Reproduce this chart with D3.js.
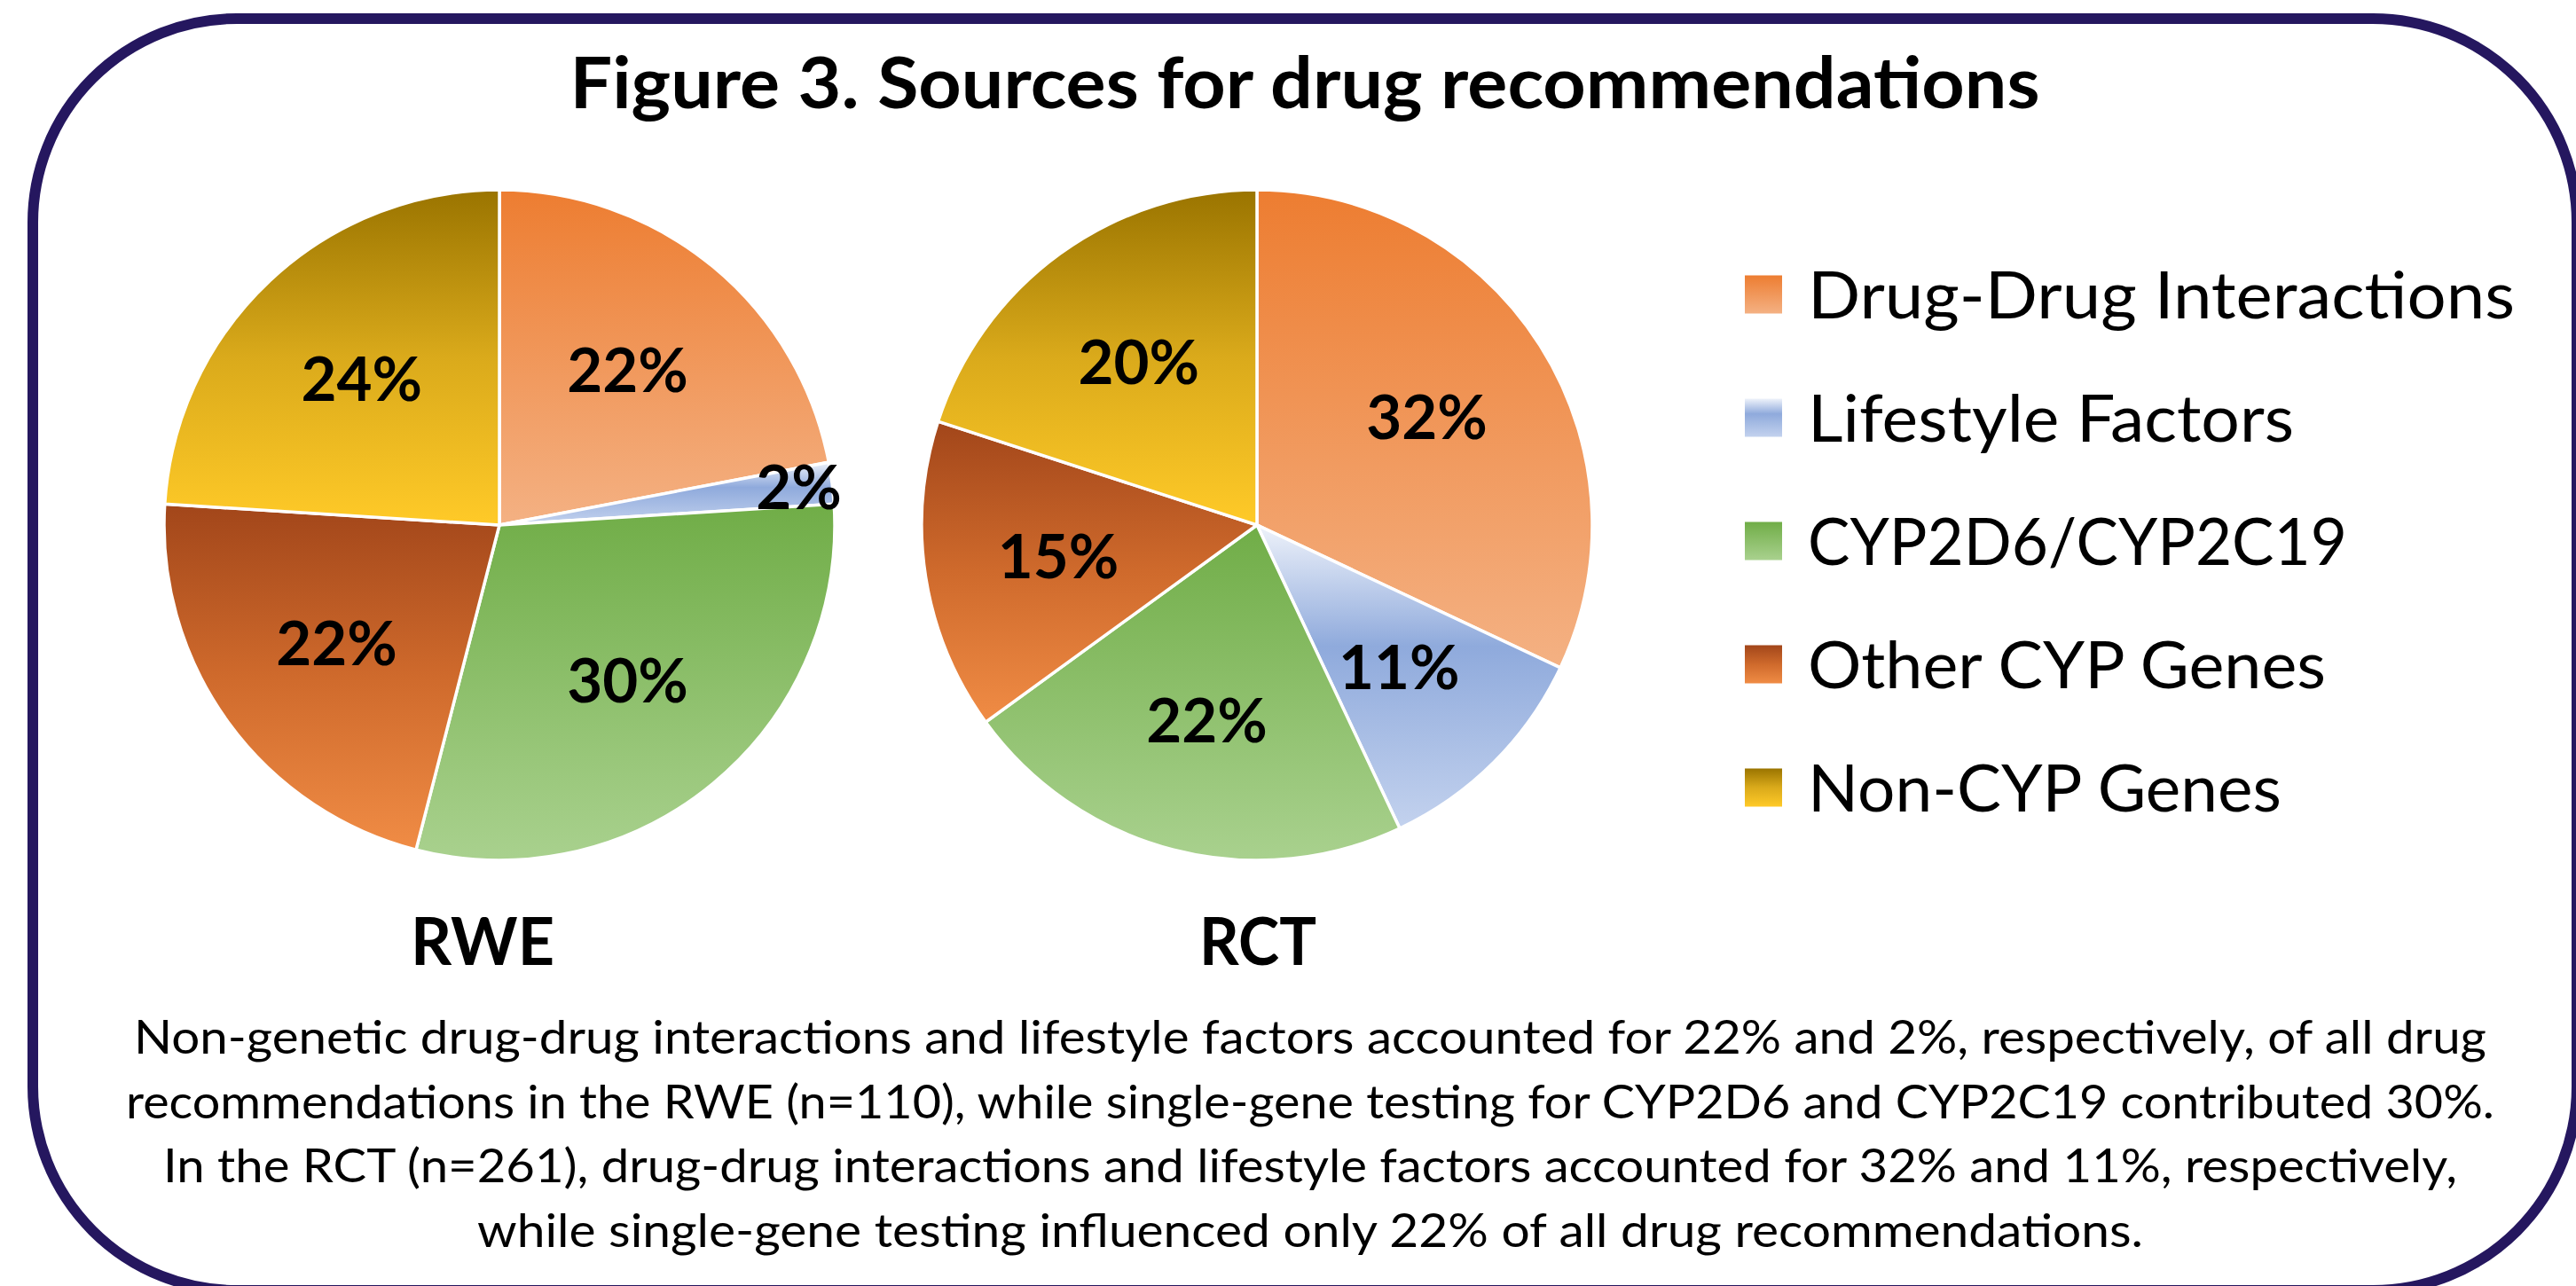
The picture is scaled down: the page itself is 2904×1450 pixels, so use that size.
<!DOCTYPE html>
<html>
<head>
<meta charset="utf-8">
<script src="https://cdn.jsdelivr.net/npm/d3@7"></script>
<style>
  html, body { margin: 0; padding: 0; background: #ffffff; }
  svg { display: block; }
  text { font-family: Lato, "Open Sans", sans-serif; fill: #000000; }
</style>
</head>
<body>
<div id="chart"></div>
<script>
// ---- data ----
var title = "Figure 3. Sources for drug recommendations";
var categories = ["Drug-Drug Interactions", "Lifestyle Factors", "CYP2D6/CYP2C19",
    "Other CYP Genes", "Non-CYP Genes"];
var studies = ["RWE", "RCT"];
var rweValues = [22, 2, 30, 22, 24];
var rctValues = [32, 11, 22, 15, 20];
var noteLines = [
    "Non-genetic drug-drug interactions and lifestyle factors accounted for 22% and 2%, respectively, of all drug",
    "recommendations in the RWE (n=110), while single-gene testing for CYP2D6 and CYP2C19 contributed 30%.",
    "In the RCT (n=261), drug-drug interactions and lifestyle factors accounted for 32% and 11%, respectively,",
    "while single-gene testing influenced only 22% of all drug recommendations."
];

// ---- styles / layout ----
// each slice is filled top -> bottom over its own bounding box
var sliceGradients = [
    [[0, "#ED7D31"], [1, "#F4B183"]],
    [[0, "#EEF2FA"], [0.4, "#8FAADC"], [1, "#C3D2EE"]],
    [[0, "#70AD47"], [1, "#A9D18E"]],
    [[0, "#A2461A"], [0.5, "#CF6A2C"], [1, "#F08C45"]],
    [[0, "#9A7400"], [0.5, "#DAAA1B"], [1, "#FFCA28"]]
];
var legendWidths = [797, 548, 608, 584, 534];
var captionWidths = [162, 132];
var captionX = [544, 1418];
var noteWidths = [2652, 2670, 2586, 1878];

var width = 2904, height = 1450;
var radius = 378;
var pieY = 592;

var svg = d3.select("#chart").append("svg")
    .attr("width", width)
    .attr("height", height);

var defs = svg.append("defs");
sliceGradients.forEach(function(stops, i) {
    var grad = defs.append("linearGradient")
        .attr("id", "grad" + i)
        .attr("x1", 0).attr("y1", 0)
        .attr("x2", 0).attr("y2", 1);
    stops.forEach(function(s) {
        grad.append("stop")
            .attr("offset", s[0])
            .attr("stop-color", s[1]);
    });
});

// rounded frame
svg.append("rect")
    .attr("x", 37)
    .attr("y", 21)
    .attr("width", 2868)
    .attr("height", 1434)
    .attr("rx", 230)
    .attr("ry", 230)
    .attr("fill", "none")
    .attr("stroke", "#25175F")
    .attr("stroke-width", 12);

svg.append("text")
    .attr("x", 1471)
    .attr("y", 122)
    .attr("text-anchor", "middle")
    .attr("font-size", 80)
    .attr("font-weight", "bold")
    .attr("textLength", 1657)
    .attr("lengthAdjust", "spacingAndGlyphs")
    .text(title);

// ---- pies ----
var pieX = d3.scalePoint().domain(studies).range([563, 1417]);
var pie = d3.pie().sort(null).value(function(d) { return d; });
var arc = d3.arc().innerRadius(0).outerRadius(radius);
var labelArc = d3.arc().innerRadius(radius * 0.6).outerRadius(radius * 0.6);
var edgeArc = d3.arc().innerRadius(radius * 0.9).outerRadius(radius * 0.9);

[rweValues, rctValues].forEach(function(values, k) {
    var g = svg.append("g")
        .attr("transform", "translate(" + pieX(studies[k]) + "," + pieY + ")");
    var slices = pie(values);
    g.selectAll("path")
        .data(slices)
        .enter()
        .append("path")
        .attr("d", arc)
        .attr("fill", function(d, i) { return "url(#grad" + i + ")"; })
        .attr("stroke", "#ffffff")
        .attr("stroke-width", 3.5);
    g.selectAll("text")
        .data(slices)
        .enter()
        .append("text")
        .attr("transform", function(d) {
            var c = d.data < 5 ? edgeArc.centroid(d) : labelArc.centroid(d);
            return "translate(" + c[0] + "," + c[1] + ")";
        })
        .attr("text-anchor", "middle")
        .attr("dy", "0.36em")
        .attr("font-size", 69)
        .attr("font-weight", "bold")
        .text(function(d) { return d.data + "%"; });
    svg.append("text")
        .attr("x", captionX[k])
        .attr("y", 1088)
        .attr("text-anchor", "middle")
        .attr("font-size", 74)
        .attr("font-weight", "bold")
        .attr("textLength", captionWidths[k])
        .attr("lengthAdjust", "spacingAndGlyphs")
        .text(studies[k]);
});

// ---- legend ----
var legendY = d3.scalePoint().domain(categories).range([332, 888]);
var legend = svg.selectAll(".legend")
    .data(categories)
    .enter()
    .append("g")
    .attr("class", "legend")
    .attr("transform", function(d) { return "translate(1967," + legendY(d) + ")"; });
legend.append("rect")
    .attr("x", 0)
    .attr("y", -21.5)
    .attr("width", 42)
    .attr("height", 43)
    .attr("fill", function(d, i) { return "url(#grad" + i + ")"; });
legend.append("text")
    .attr("x", 71)
    .attr("dy", "0.36em")
    .attr("font-size", 74)
    .attr("textLength", function(d, i) { return legendWidths[i]; })
    .attr("lengthAdjust", "spacingAndGlyphs")
    .text(function(d) { return d; });

// ---- note ----
svg.selectAll(".note")
    .data(noteLines)
    .enter()
    .append("text")
    .attr("class", "note")
    .attr("x", 1477)
    .attr("y", function(d, i) { return 1188 + i * 72.5; })
    .attr("text-anchor", "middle")
    .attr("font-size", 53)
    .attr("textLength", function(d, i) { return noteWidths[i]; })
    .attr("lengthAdjust", "spacingAndGlyphs")
    .text(function(d) { return d; });
</script>
</body>
</html>
